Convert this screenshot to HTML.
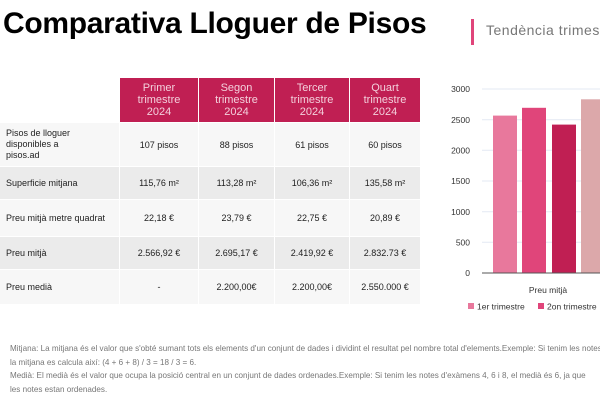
<!DOCTYPE html>
<html><head><meta charset="utf-8"><style>
body{margin:0;width:600px;height:400px;overflow:hidden;background:#fff;font-family:"Liberation Sans",sans-serif;position:relative}
.a{position:absolute;white-space:nowrap}
.c{position:absolute;display:flex;align-items:center;justify-content:center;text-align:center;font-size:9px;color:#222}
.l{justify-content:flex-start;text-align:left;padding-left:6px;box-sizing:border-box}
.h{background:#c01f53;color:#f3d0dc;font-size:11px;line-height:12px}
.g1{background:#f7f7f7}.g2{background:#ebebeb}
.foot{font-size:8.1px;color:#777}
</style></head><body>
<div class="a" style="left:3px;top:7px;font-size:30px;font-weight:bold;color:#000;letter-spacing:-0.3px">Comparativa Lloguer de Pisos</div>
<div class="a" style="left:471px;top:19px;width:3px;height:26px;background:#e0457a"></div>
<div class="a" style="left:486px;top:22px;font-size:14px;color:#777;letter-spacing:0.5px">Tendència trimestral</div>

<div class="c h" style="left:120px;top:78px;width:78px;height:44px">Primer<br>trimestre<br>2024</div>
<div class="c h" style="left:199px;top:78px;width:75px;height:44px">Segon<br>trimestre<br>2024</div>
<div class="c h" style="left:275px;top:78px;width:74px;height:44px">Tercer<br>trimestre<br>2024</div>
<div class="c h" style="left:350px;top:78px;width:70px;height:44px">Quart<br>trimestre<br>2024</div>

<div class="c l g1" style="left:0;top:123px;width:119px;height:43px;line-height:11px">Pisos de lloguer<br>disponibles a<br>pisos.ad</div>
<div class="c g1" style="left:120px;top:123px;width:78px;height:43px">107 pisos</div>
<div class="c g1" style="left:199px;top:123px;width:75px;height:43px">88 pisos</div>
<div class="c g1" style="left:275px;top:123px;width:74px;height:43px">61 pisos</div>
<div class="c g1" style="left:350px;top:123px;width:70px;height:43px">60 pisos</div>

<div class="c l g2" style="left:0;top:167px;width:119px;height:32px">Superficie mitjana</div>
<div class="c g2" style="left:120px;top:167px;width:78px;height:32px">115,76 m²</div>
<div class="c g2" style="left:199px;top:167px;width:75px;height:32px">113,28 m²</div>
<div class="c g2" style="left:275px;top:167px;width:74px;height:32px">106,36 m²</div>
<div class="c g2" style="left:350px;top:167px;width:70px;height:32px">135,58 m²</div>

<div class="c l g1" style="left:0;top:200px;width:119px;height:36px">Preu mitjà metre quadrat</div>
<div class="c g1" style="left:120px;top:200px;width:78px;height:36px">22,18 €</div>
<div class="c g1" style="left:199px;top:200px;width:75px;height:36px">23,79 €</div>
<div class="c g1" style="left:275px;top:200px;width:74px;height:36px">22,75 €</div>
<div class="c g1" style="left:350px;top:200px;width:70px;height:36px">20,89 €</div>

<div class="c l g2" style="left:0;top:237px;width:119px;height:32px">Preu mitjà</div>
<div class="c g2" style="left:120px;top:237px;width:78px;height:32px">2.566,92 €</div>
<div class="c g2" style="left:199px;top:237px;width:75px;height:32px">2.695,17 €</div>
<div class="c g2" style="left:275px;top:237px;width:74px;height:32px">2.419,92 €</div>
<div class="c g2" style="left:350px;top:237px;width:70px;height:32px">2.832.73 €</div>

<div class="c l g1" style="left:0;top:270px;width:119px;height:34px">Preu medià</div>
<div class="c g1" style="left:120px;top:270px;width:78px;height:34px">-</div>
<div class="c g1" style="left:199px;top:270px;width:75px;height:34px">2.200,00€</div>
<div class="c g1" style="left:275px;top:270px;width:74px;height:34px">2.200,00€</div>
<div class="c g1" style="left:350px;top:270px;width:70px;height:34px">2.550.000 €</div>

<svg class="a" style="left:440px;top:80px" width="160" height="240" font-family="Liberation Sans,sans-serif" font-size="8.5" fill="#333">
<g stroke="#e3e9f3" stroke-width="1">
<line x1="42" x2="160" y1="9" y2="9"/><line x1="42" x2="160" y1="39.7" y2="39.7"/><line x1="42" x2="160" y1="70.3" y2="70.3"/><line x1="42" x2="160" y1="101" y2="101"/><line x1="42" x2="160" y1="131.7" y2="131.7"/><line x1="42" x2="160" y1="162.3" y2="162.3"/></g>
<g text-anchor="end"><text x="30" y="12">3000</text><text x="30" y="43">2500</text><text x="30" y="73.5">2000</text><text x="30" y="104">1500</text><text x="30" y="135">1000</text><text x="30" y="165.5">500</text><text x="30" y="196">0</text></g>
<rect x="53" y="35.6" width="24" height="157.4" fill="#e8789c"/>
<rect x="82" y="27.8" width="24" height="165.2" fill="#e0457a"/>
<rect x="112" y="44.6" width="24" height="148.4" fill="#c01f53"/>
<rect x="141" y="19.3" width="24" height="173.7" fill="#dca8aa"/>
<line x1="42" x2="160" y1="193" y2="193" stroke="#555"/>
<text x="108" y="213" text-anchor="middle">Preu mitjà</text>
<rect x="28" y="223" width="6" height="6" fill="#e8789c"/><text x="37" y="229.5">1er trimestre</text>
<rect x="98" y="223" width="6" height="6" fill="#e0457a"/><text x="107" y="229.5">2on trimestre</text>
</svg>

<div class="a foot" style="left:10px;top:344px">Mitjana: La mitjana és el valor que s'obté sumant tots els elements d'un conjunt de dades i dividint el resultat pel nombre total d'elements.Exemple: Si tenim les notes</div>
<div class="a foot" style="left:10px;top:358px">la mitjana es calcula així: (4 + 6 + 8) / 3 = 18 / 3 = 6.</div>
<div class="a foot" style="left:10px;top:371px">Medià: El medià és el valor que ocupa la posició central en un conjunt de dades ordenades.Exemple: Si tenim les notes d'exàmens 4, 6 i 8, el medià és 6, ja que</div>
<div class="a foot" style="left:10px;top:385px">les notes estan ordenades.</div>
</body></html>
